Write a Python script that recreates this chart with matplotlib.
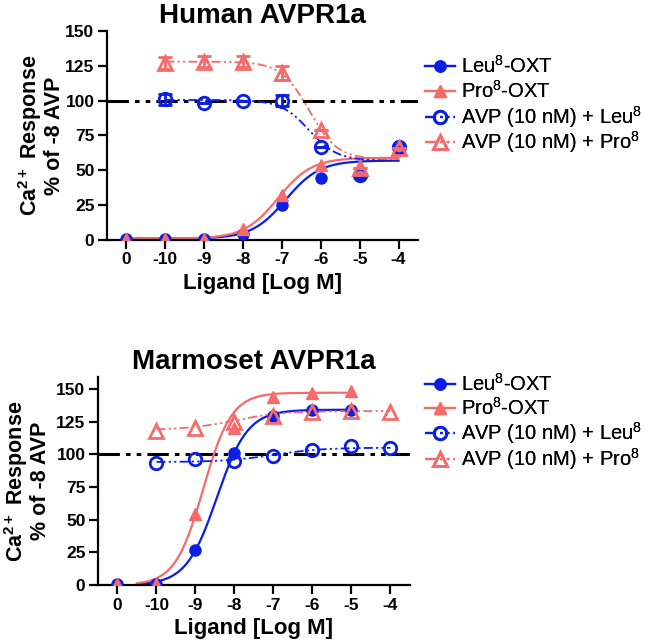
import numpy as np
import matplotlib
matplotlib.use("Agg")
import matplotlib.pyplot as plt

plt.rcParams['font.family'] = ['Liberation Sans', 'DejaVu Sans']
plt.rcParams['mathtext.default'] = 'regular'

BLUE = '#0a1ee6'
RED = '#f56b6b'

# x positions; the "0" (vehicle) dose is drawn at -11
x_ticks = [-11, -10, -9, -8, -7, -6, -5, -4]
x_labels = ['0', '-10', '-9', '-8', '-7', '-6', '-5', '-4']
labels = ['Leu$^8$-OXT', 'Pro$^8$-OXT', 'AVP (10 nM) + Leu$^8$', 'AVP (10 nM) + Pro$^8$']

# ---- Human AVPR1a ----
h_x_ag = [-11, -10, -9, -8, -7, -6, -5, -4]
h_leu = [1, 1, 1, 4, 25, 44.5, 47, 66]
h_pro = [1, 1, 1, 8, 32, 54, 52, 65]
h_x_avp = [-10, -9, -8, -7, -6, -5, -4]
h_avp_leu = [101, 98, 100, 100, 67, 46.5, 66.5]
h_avp_leu_err = [4, 0, 0, 4, 0, 0, 0]
h_avp_pro = [127, 128, 128, 120, 79, 52, 66]
h_avp_pro_err = [4, 4, 4, 5, 0, 0, 0]
# fitted curves: bottom, top, logEC50, hill
h_fit_leu = [1, 57, -6.9, 1.0]
h_fit_pro = [1, 59, -7.1, 1.0]
h_fit_avp_leu = [57, 100.5, -6.3, -1.2]
h_fit_avp_pro = [58, 128, -6.3, -1.2]

# ---- Marmoset AVPR1a ----
m_x_ag = [-11, -10, -9, -8, -7, -6, -5]
m_leu = [1, 0.5, 27, 101, 129, 134, 134]
m_pro = [0.5, 0.5, 54, 120, 144, 147, 148]
m_x_avp = [-10, -9, -8, -7, -6, -5, -4]
m_avp_leu = [93, 96, 95, 99, 103, 106, 105]
m_avp_pro = [118, 120, 125, 129, 132, 133, 132]
m_fit_leu = [0, 134, -8.45, 1.1]
m_fit_pro = [0, 147, -8.8, 1.2]
m_fit_avp_leu = [94, 105, -7.0, 0.7]
m_fit_avp_pro = [118.5, 133, -8.0, 0.7]


def sigmoid(x, p):
    bottom, top, ec50, hill = p
    return bottom + (top - bottom) / (1 + 10 ** ((ec50 - x) * hill))


DDOT = (0, (5, 1.8, 1.2, 1.8, 1.2, 1.8))
W, H = 662, 640


def panel(fig, ax, title, ymax, xa, leu, pro, xv, avl, avp, fits, ranges,
          avl_err=None, avp_err=None, leg_y=(), ypad=4):
    ax.axhline(100, color='black', lw=2.2, ls=(0, (7, 2, 1.5, 2, 1.5, 2)), zorder=1)
    xs = np.linspace(ranges[0][0], ranges[0][1], 300)
    xd = np.linspace(ranges[1][0], ranges[1][1], 300)
    ax.plot(xs, sigmoid(xs, fits[0]), color=BLUE, lw=1.6, zorder=2)
    ax.plot(xs, sigmoid(xs, fits[1]), color=RED, lw=1.6, zorder=2)
    ax.plot(xd, sigmoid(xd, fits[2]), color=BLUE, lw=1.3, ls=DDOT, zorder=2)
    ax.plot(xd, sigmoid(xd, fits[3]), color=RED, lw=1.3, ls=DDOT, zorder=2)

    ax.plot(xa, leu, 'o', ms=8, color=BLUE, zorder=3)
    ax.plot(xa, pro, '^', ms=9, color=RED, zorder=4)
    ax.errorbar(xv, avl, yerr=avl_err, fmt='o', ms=9, mfc='none', mec=BLUE, mew=2,
                ecolor=BLUE, elinewidth=2, capsize=5, capthick=2, zorder=5)
    ax.errorbar(xv, avp, yerr=avp_err, fmt='^', ms=9.5, mfc='none', mec=RED, mew=2,
                ecolor=RED, elinewidth=2, capsize=5, capthick=2, zorder=6)

    h1, = ax.plot([], [], '-o', color=BLUE, ms=8, lw=1.6)
    h2, = ax.plot([], [], '-^', color=RED, ms=9, lw=1.6)
    h3, = ax.plot([], [], ls=DDOT, marker='o', color=BLUE, mfc='none', mew=2, ms=9, lw=1.6)
    h4, = ax.plot([], [], ls=DDOT, marker='^', color=RED, mfc='none', mew=2, ms=9.5, lw=1.6)
    for h, lab, yp in zip([h1, h2, h3, h4], labels, leg_y):
        leg = fig.legend([h], [lab], loc='center left',
                         bbox_to_anchor=(425 / W, 1 - yp / H),
                         frameon=False, borderpad=0, borderaxespad=0, handlelength=1.5,
                         handletextpad=0.3, fontsize=14.5)
        fig.add_artist(leg)

    ax.set_xlim(-11.5, -3.5)
    ax.set_ylim(0, ymax)
    ax.set_xticks(x_ticks)
    ax.set_xticklabels(x_labels)
    ax.set_yticks(range(0, 151, 25))
    for s in ('top', 'right'):
        ax.spines[s].set_visible(False)
    for s in ('left', 'bottom'):
        ax.spines[s].set_linewidth(1.6)
    ax.tick_params(width=1.6, length=6.5, labelsize=12.5, pad=2.5)
    for t in ax.get_xticklabels() + ax.get_yticklabels():
        t.set_fontweight('bold')
    ax.set_title(title, fontsize=20, fontweight='bold', pad=6)
    ax.set_xlabel('Ligand [Log M]', fontsize=16, fontweight='bold', labelpad=4)
    ax.set_ylabel('Ca$^{2+}$ Response\n% of -8 AVP', fontsize=15.5, fontweight='bold',
                  linespacing=1.0, labelpad=ypad)


fig = plt.figure(figsize=(6.62, 6.40), dpi=100)
ax1 = fig.add_axes([0.1616, 0.625, 0.4698, 0.3266])
ax2 = fig.add_axes([0.148, 0.0859, 0.4713, 0.325])

panel(fig, ax1, 'Human AVPR1a', 150, h_x_ag, h_leu, h_pro, h_x_avp, h_avp_leu, h_avp_pro,
      [h_fit_leu, h_fit_pro, h_fit_avp_leu, h_fit_avp_pro],
      [(-11, -4), (-10, -4)], h_avp_leu_err, h_avp_pro_err,
      leg_y=(66, 91, 117, 142), ypad=0)
panel(fig, ax2, 'Marmoset AVPR1a', 159, m_x_ag, m_leu, m_pro, m_x_avp, m_avp_leu, m_avp_pro,
      [m_fit_leu, m_fit_pro, m_fit_avp_leu, m_fit_avp_pro],
      [(-10.5, -5), (-10, -4)], leg_y=(384, 408, 433, 459), ypad=4)

fig.savefig('out.png', dpi=100)
